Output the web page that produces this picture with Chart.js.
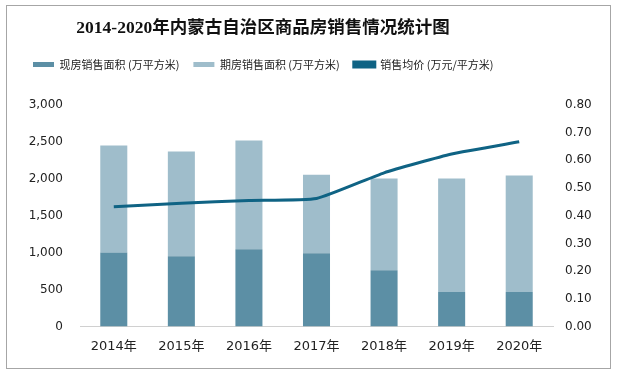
<!DOCTYPE html>
<html>
<head>
<meta charset="utf-8">
<script src="https://cdn.jsdelivr.net/npm/chart.js@4.4.0/dist/chart.umd.min.js"></script>
<style>
  body { margin: 0; background: #fff; }
  #wrap { position: relative; width: 617px; height: 373px; }
  #frame { position: absolute; left: 6px; top: 5px; width: 603px; height: 362px; border: 1px solid #a6a6a6; pointer-events: none; }
</style>
</head>
<body>
<div id="wrap">
  <canvas id="chart" width="617" height="373"></canvas>
  <div id="frame"></div>
</div>
<script>
// data
const years = ['2014年', '2015年', '2016年', '2017年', '2018年', '2019年', '2020年'];
const spotArea = [1000, 950, 1045, 990, 760, 465, 465];        // 现房销售面积
const totalArea = [2450, 2370, 2520, 2055, 2005, 2005, 2045];  // bar tops
const futureArea = totalArea.map((t, i) => t - spotArea[i]);   // 期房销售面积
const avgPrice = [0.432, 0.445, 0.455, 0.462, 0.555, 0.623, 0.667]; // 销售均价
const chartTitle = '2014-2020年内蒙古自治区商品房销售情况统计图';

const tickFont = { family: '"DejaVu Sans", "Noto Sans CJK SC", sans-serif', size: 12 };

// push the plot down a bit below the legend
const legendGap = {
    id: 'legendGap',
    beforeInit(chart) {
        const fit = chart.legend.fit;
        chart.legend.fit = function () {
            fit.bind(chart.legend)();
            this.height += 25;
        };
    }
};

// title sits left of centre in the original, so draw it ourselves
const offsetTitle = {
    id: 'offsetTitle',
    afterDraw(chart) {
        const c = chart.ctx;
        c.save();
        c.font = 'bold 17.5px "Liberation Serif", "Noto Sans CJK SC", serif';
        c.fillStyle = '#111';
        c.textAlign = 'center';
        c.textBaseline = 'middle';
        c.fillText(chartTitle, 263, 28);
        c.restore();
    }
};

const ctx = document.getElementById('chart').getContext('2d');
const chart = new Chart(ctx, {
    type: 'bar',
    data: {
        labels: years,
        datasets: [
            {
                label: '现房销售面积 (万平方米)',
                data: spotArea,
                backgroundColor: '#5c8fa5',
                stack: 'a',
                yAxisID: 'y',
                barPercentage: 0.8,
                categoryPercentage: 0.5,
                order: 2
            },
            {
                label: '期房销售面积 (万平方米)',
                data: futureArea,
                backgroundColor: '#9fbdcb',
                stack: 'a',
                yAxisID: 'y',
                barPercentage: 0.8,
                categoryPercentage: 0.5,
                order: 2
            },
            {
                type: 'line',
                label: '销售均价 (万元/平方米)',
                data: avgPrice,
                borderColor: '#0f6384',
                backgroundColor: '#0f6384',
                borderWidth: 3,
                pointRadius: 0,
                tension: 0.15,
                yAxisID: 'y1',
                order: 1
            }
        ]
    },
    options: {
        responsive: false,
        animation: false,
        layout: { padding: { left: 19, right: 20, top: 45, bottom: 7 } },
        plugins: {
            title: { display: false },
            legend: {
                align: 'start',
                labels: {
                    color: '#222',
                    font: { family: '"Noto Sans CJK SC", sans-serif', size: 11 },
                    boxWidth: 21,
                    boxHeight: 5,
                    padding: 14,
                    sort: (a, b) => a.datasetIndex - b.datasetIndex
                }
            },
            tooltip: { enabled: false }
        },
        scales: {
            x: {
                stacked: true,
                grid: { display: false, drawTicks: false },
                border: { color: '#d0d0d0', width: 1 },
                ticks: { color: '#222', font: { ...tickFont, size: 13 }, padding: 12 }
            },
            y: {
                stacked: true,
                min: 0,
                max: 3000,
                position: 'left',
                grid: { display: false, drawTicks: false },
                border: { display: false },
                ticks: {
                    stepSize: 500,
                    color: '#222',
                    font: tickFont,
                    padding: 17,
                    callback: v => v.toLocaleString('en-US')
                },
                afterFit: s => { s.width = 61; }
            },
            y1: {
                min: 0,
                max: 0.8,
                position: 'right',
                grid: { display: false, drawTicks: false },
                border: { display: false },
                ticks: {
                    stepSize: 0.1,
                    color: '#222',
                    font: tickFont,
                    padding: 12,
                    callback: v => v.toFixed(2)
                },
                afterFit: s => { s.width = 44; }
            }
        }
    },
    plugins: [legendGap, offsetTitle]
});
</script>
</body>
</html>
